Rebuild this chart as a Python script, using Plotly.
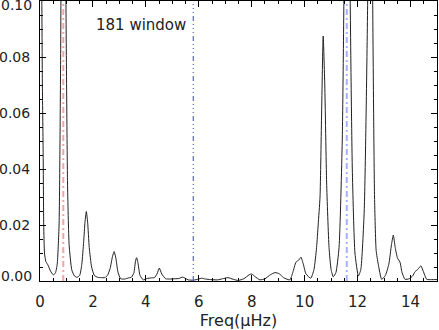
import plotly.graph_objects as go

freq = [0.00, 0.04, 0.09, 0.12, 0.14, 0.17, 0.22, 0.30, 0.40, 0.50, 0.58, 0.65, 0.72, 0.78, 0.88, 0.98,
        1.04, 1.10, 1.20, 1.30, 1.40, 1.50, 1.58, 1.65, 1.70, 1.75, 1.80, 1.86, 1.95, 2.05, 2.18,
        2.30, 2.45, 2.55, 2.65, 2.74, 2.80, 2.86, 2.95, 3.05, 3.20, 3.35, 3.46, 3.55, 3.61, 3.65,
        3.70, 3.78, 3.90, 4.05, 4.20, 4.32, 4.42, 4.51, 4.60, 4.75, 4.90, 5.10, 5.25, 5.39, 5.50,
        5.60, 5.80, 6.00, 6.10, 6.25, 6.45, 6.70, 6.90, 7.10, 7.30, 7.49, 7.70, 7.90, 8.00, 8.12,
        8.31, 8.50, 8.70, 8.88, 9.04, 9.20, 9.44, 9.55, 9.67, 9.78, 9.86, 9.95, 10.05, 10.23, 10.35,
        10.45, 10.51, 10.58, 10.64, 10.70, 10.76, 10.83, 10.92, 11.00, 11.08, 11.18, 11.30, 11.42,
        11.50, 11.60, 11.70, 11.80, 11.90, 12.03, 12.12, 12.25, 12.38, 12.47, 12.57, 12.64, 12.70,
        12.78, 12.91, 13.05, 13.18, 13.28, 13.35, 13.42, 13.51, 13.60, 13.68, 13.79, 13.95, 14.08,
        14.17, 14.28, 14.39, 14.48, 14.61, 14.80, 15.00]

power = [0.30, 0.15, 0.07, 0.045, 0.02, 0.01, 0.007, 0.0057, 0.0035, 0.0022, 0.0028, 0.006, 0.02, 0.08, 0.28, 0.10,
         0.035, 0.013, 0.004, 0.0018, 0.0013, 0.002, 0.006, 0.014, 0.021, 0.0248, 0.021, 0.012, 0.005, 0.002, 0.0013,
         0.0012, 0.0012, 0.002, 0.0045, 0.0088, 0.0105, 0.0085, 0.003, 0.0008, 0.0007, 0.0011, 0.0014, 0.003, 0.0072, 0.0083,
         0.0065, 0.002, 0.0004, 0.0009, 0.0011, 0.0012, 0.0025, 0.0046, 0.0025, 0.0008, 0.0007, 0.0008, 0.0009, 0.0014, 0.0009,
         0.0004, 0.0003, 0.0007, 0.001, 0.0007, 0.0005, 0.0004, 0.0008, 0.0012, 0.0006, 0.0002, 0.0008, 0.0022, 0.0025, 0.0016,
         0.0004, 0.0008, 0.0022, 0.003, 0.0026, 0.0012, 0.0004, 0.003, 0.0067, 0.0075, 0.0085, 0.006, 0.0025, 0.001, 0.004,
         0.012, 0.02, 0.03, 0.06, 0.0875, 0.07, 0.035, 0.012, 0.004, 0.0015, 0.003, 0.012, 0.05,
         0.12, 0.35, 0.12, 0.04, 0.01, 0.0018, 0.004, 0.025, 0.10, 0.30, 0.10, 0.03, 0.011,
         0.006, 0.0006, 0.002, 0.006, 0.013, 0.0164, 0.012, 0.0081, 0.0068, 0.003, 0.0006, 0.0008, 0.0018,
         0.0033, 0.0042, 0.0054, 0.0035, 0.0006, 0.0005, 0.0005]

# y tick labels: interior ones centred on their ticks, the two end ones nudged inward (as in the original)
y_ticks_mid = [0.02, 0.04, 0.06, 0.08]
y_tick_ends = [0.00, 0.10]
y_end_shift = [5, -4]

# vertical marker lines
vline_x = [0.88, 5.79, 11.59]
vline_color = ["#f5a3a3", "#3c3cf0", "#a9b0ff"]
vline_width = [2, 1, 2]
vline_dash = ["6px,3px,2px,3px", "5px,3px,1px,3px,1px,3px,1px,3px", "6px,3px,2px,3px"]

label_text = "181 window"
x_title = "Freq(\u03bcHz)"

fig = go.Figure()
fig.add_trace(go.Scatter(x=freq, y=power, mode="lines",
                         line=dict(color="#202020", width=1, shape="spline", smoothing=0.5),
                         showlegend=False))

for xv, c, w, d in zip(vline_x, vline_color, vline_width, vline_dash):
    fig.add_shape(type="line", x0=xv, x1=xv, y0=0, y1=1, xref="x", yref="paper",
                  line=dict(color=c, width=w, dash=d), layer="above")

fig.add_annotation(x=5.6, y=0.0915, xref="x", yref="y", text=label_text, showarrow=False,
                   xanchor="right", font=dict(family="DejaVu Sans", size=15, color="#222"))

tickfont_y = dict(family="DejaVu Sans", size=14, color="#222")
for v, s in zip(y_tick_ends, y_end_shift):
    fig.add_annotation(x=0, y=v, xref="paper", yref="y", text="%.2f" % v, showarrow=False,
                       xanchor="right", yanchor="middle", xshift=-6, yshift=s, font=tickfont_y)

axis_common = dict(showline=True, linecolor="black", linewidth=1, mirror="allticks",
                   ticks="inside", tickcolor="black", showgrid=False, zeroline=False,
                   automargin=False)

fig.update_xaxes(range=[0, 15], dtick=2, tick0=0, ticklen=6,
                 minor=dict(dtick=0.5, ticklen=3, ticks="inside", tickcolor="black"),
                 tickfont=dict(family="DejaVu Sans", size=15, color="#222"),
                 ticklabelstandoff=7,
                 title=dict(text=x_title, font=dict(family="DejaVu Sans", size=16, color="#222"), standoff=4),
                 **axis_common)
fig.update_yaxes(range=[0, 0.1], tickmode="array", tickvals=y_ticks_mid + y_tick_ends,
                 ticktext=["%.2f" % v for v in y_ticks_mid] + ["", ""], ticklen=6,
                 minor=dict(tickmode="linear", tick0=0, dtick=0.005, ticklen=3, ticks="inside", tickcolor="black"),
                 tickfont=tickfont_y, ticklabelstandoff=6,
                 **axis_common)

fig.update_layout(width=439, height=330, margin=dict(l=40, r=2, t=1, b=49),
                  plot_bgcolor="white", paper_bgcolor="white")

fig.write_html("out.html", config={"displayModeBar": False},
               post_script="document.body.style.margin='0';document.body.style.overflow='hidden';")
